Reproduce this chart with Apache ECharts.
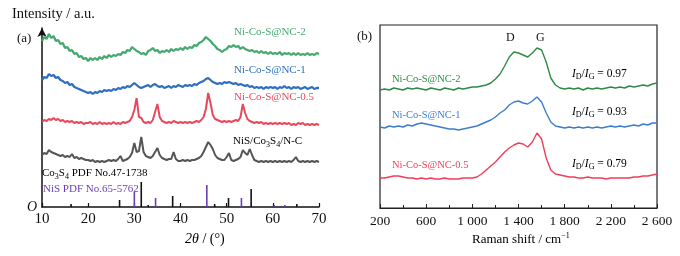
<!DOCTYPE html>
<html><head><meta charset="utf-8">
<script src="https://cdn.jsdelivr.net/npm/echarts@6/dist/echarts.min.js"></script>
<style>html,body{margin:0;padding:0;background:#fff}#c{width:680px;height:256px}</style>
</head><body><div id="c"></div>
<script>
// ---------- (a) XRD ----------
const xrdAngles = [
10,10.5,11,11.5,12,12.5,13,13.5,14,14.5,
15,15.5,16,16.5,17,17.5,18,18.5,19,19.5,
20,20.5,21,21.5,22,22.5,23,23.5,24,24.5,
25,25.5,26,26.5,27,27.5,28,28.5,29,29.5,
30,30.5,31,31.5,32,32.5,33,33.5,34,34.5,
35,35.5,36,36.5,37,37.5,38,38.5,39,39.5,
40,40.5,41,41.5,42,42.5,43,43.5,44,44.5,
45,45.5,46,46.5,47,47.5,48,48.5,49,49.5,
50,50.5,51,51.5,52,52.5,53,53.5,54,54.5,
55,55.5,56,56.5,57,57.5,58,58.5,59,59.5,
60,60.5,61,61.5,62,62.5,63,63.5,64,64.5,
65,65.5,66,66.5,67,67.5,68,68.5,69,69.5,
70];
const xrdNC2 = [
166,170,168,173,169,171,166,167,163,164,
159,160,156,157,153,154,150,151,148,149,
146,149,147,149,147,150,148,151,149,152,
150,152,151,153,152,155,154,157,156,160,
158,156,155,153,154,152,156,157,159,156,
157,154,156,155,157,155,158,156,158,157,
159,157,160,158,160,159,162,161,164,165,
167,170,168,166,163,161,158,157,155,157,
158,161,160,162,160,161,158,160,158,157,
156,157,155,156,154,156,154,155,153,155,
153,154,153,155,152,154,153,154,152,154,
152,154,152,153,152,154,152,153,152,154,
153];
const xrdNC1 = [
127,130,129,133,131,132,129,130,127,126,
124,125,122,123,120,119,118,117,116,115,
114,115,113,115,114,116,115,117,116,117,
116,118,117,119,118,120,119,121,120,122,
124,122,120,119,120,121,122,120,122,123,
121,120,121,119,120,121,119,121,120,122,
121,120,122,121,122,121,123,122,124,125,
126,128,129,127,125,124,123,124,123,125,
124,125,124,123,124,122,123,122,121,122,
120,121,119,120,119,120,118,120,119,120,
119,120,118,120,119,121,119,120,118,120,
119,120,118,119,120,118,119,120,118,119,
119];
const xrdNC05 = [
85,87,86,88,87,89,87,88,86,87,
85,86,85,86,84,85,84,85,83,84,
84,85,83,84,83,85,83,84,83,84,
83,85,83,84,83,85,84,85,86,90,
97,109,90,89,85,84,85,84,87,95,
103,90,86,85,84,85,84,86,85,84,
85,84,85,84,85,84,85,86,85,87,
90,98,114,104,92,88,87,86,85,86,
85,86,85,86,87,86,90,103,94,88,
86,85,84,85,84,85,83,84,83,84,
83,84,83,84,83,84,83,84,82,83,
82,84,83,84,82,83,82,83,82,83,
82];
const xrdNiSCo3S4 = [
52,54,53,57,55,54,53,52,51,52,
50,51,50,53,49,50,48,49,48,47,
47,46,47,45,46,45,46,45,46,47,
46,47,46,48,51,46,47,48,50,54,
64,55,56,70,55,51,50,49,51,55,
59,52,49,48,47,48,48,55,48,46,
46,47,46,47,46,47,47,48,49,51,
55,60,65,62,58,52,49,48,47,47,
50,54,47,46,47,48,50,57,54,52,
58,52,47,46,45,46,45,46,45,46,
45,46,45,46,45,46,45,46,45,47,
50,46,45,46,45,46,45,46,45,46,
45];
const co3s4PdfPos = [16.3, 26.8, 31.5, 33.0, 38.3, 47.4, 50.4, 55.3, 65.2];
const co3s4PdfInt = [3, 7, 25, 2, 11, 3, 9, 18, 3];
const nisPdfPos = [30.0, 34.6, 45.7, 53.2, 60.3, 62.6];
const nisPdfInt = [15, 9, 22, 9, 2, 2];
const xrdTicks = [10, 20, 30, 40, 50, 60, 70];

// ---------- (b) Raman ----------
const ramanShift = [
200,240,280,320,360,400,440,480,520,560,
600,640,680,720,760,800,840,880,920,960,
1000,1040,1080,1120,1160,1200,1240,1280,1320,1360,
1400,1440,1480,1520,1560,1600,1640,1680,1720,1760,
1800,1840,1880,1920,1960,2000,2040,2080,2120,2160,
2200,2240,2280,2320,2360,2400,2440,2480,2520,2560,
2600];
const ramanNC2 = [
118,119,118,120,119,118,120,119,120,119,
118,120,119,118,120,119,118,120,119,120,
121,121,122,123,125,129,134,142,151,156,
155,153,151,155,160,158,146,130,123,120,
119,120,119,120,118,120,119,120,119,120,
121,120,121,120,122,121,122,123,122,124,
125];
const ramanNC1 = [
81,80,82,81,82,81,83,82,84,85,
84,83,82,81,80,79,79,78,79,80,
81,82,84,86,88,91,95,98,103,106,
107,105,104,107,111,106,95,86,82,81,
80,81,80,81,80,81,80,81,80,81,
82,81,82,81,82,83,82,84,83,85,
85];
const ramanNC05 = [
30,30,31,32,32,31,30,30,29,30,
29,30,29,29,30,29,29,29,30,30,
30,31,34,38,42,46,51,56,60,63,
65,64,61,66,75,69,50,38,34,33,
32,31,31,30,30,31,30,30,30,29,
30,30,30,30,30,31,31,32,32,33,
34];
const ramanTicks = [200, 600, 1000, 1400, 1800, 2200, 2600];

const C = {
  g1:'#43a96e', b1:'#2d6ec0', r1:'#e8485c', k1:'#555555', p1:'#6a3fb5',
  g2:'#2f8a45', b2:'#3b7dd3', r2:'#ef3f58'
};
const SERIF = '"Liberation Serif","DejaVu Serif",serif';

function zip(xs, ys){ return xs.map((x,i)=>[x, ys[i]]); }
function fmtNum(v){ return v >= 1000 ? String(v).replace(/(\d)(\d{3})$/, '$1 $2') : String(v); }

const chart = echarts.init(document.getElementById('c'), null, {renderer:'canvas'});
const lineS = (xi, data, color, w) => ({
  type:'line', xAxisIndex:xi, yAxisIndex:xi, data, showSymbol:false, symbol:'none',
  lineStyle:{color, width:w}, animation:false, silent:true
});
const barS = (pos, inten, color) => ({
  type:'bar', xAxisIndex:0, yAxisIndex:0, data: zip(pos, inten), barWidth:1.6, barGap:'-100%',
  itemStyle:{color}, animation:false, silent:true
});

const subStyle = (color) => ({fontFamily:SERIF, fontSize:8, color, padding:[6,0,0,0]});
const baseStyle = (color, size) => ({fontFamily:SERIF, fontSize:size, color});

function ratioText(x, y, val, color){
  return {type:'text', left:x, top:y-7, style:{
    text:'{i|I}{s|D}{n|/}{i|I}{s|G}{n| = '+val+'}',
    rich:{ i:{fontFamily:SERIF, fontStyle:'italic', fontSize:11.5, color},
           s:subStyle(color), n:baseStyle(color,11.5) }
  }};
}
function plainText(x, y, txt, color, size, extra){
  return Object.assign({type:'text', left:x, top:y - size/2 - 1, style:Object.assign({text:txt, fill:color, font:size+'px '+SERIF}, extra||{})});
}

chart.setOption({
  backgroundColor:'#fff',
  animation:false,
  grid:[
    {left:42, top:28, width:277, height:179},
    {left:380, top:25, width:277, height:183, show:true, borderColor:'#222', borderWidth:1.2, backgroundColor:'transparent'}
  ],
  xAxis:[
    {gridIndex:0, type:'value', min:10, max:70, interval:10,
     axisLine:{lineStyle:{color:'#111', width:1.5}},
     axisTick:{inside:true, length:4, lineStyle:{color:'#111', width:1.2}},
     axisLabel:{fontFamily:SERIF, fontSize:15, color:'#111', margin:5,
       customValues: xrdTicks},
     splitLine:{show:false}},
    {gridIndex:1, type:'value', min:200, max:2600, interval:400,
     axisLine:{lineStyle:{color:'#222', width:1.2}},
     axisTick:{inside:true, length:4, lineStyle:{color:'#222'}},
     minorTick:{show:true, splitNumber:2, length:3, lineStyle:{color:'#222'}},
     axisLabel:{fontFamily:SERIF, fontSize:13.5, color:'#111', margin:6, formatter:fmtNum},
     splitLine:{show:false}, minorSplitLine:{show:false}}
  ],
  yAxis:[
    {gridIndex:0, type:'value', min:0, max:179,
     axisLine:{show:true, symbol:['none','arrow'], symbolSize:[7,9], symbolOffset:[0,0], lineStyle:{color:'#111', width:1.5}},
     axisTick:{show:false}, axisLabel:{show:false}, splitLine:{show:false}},
    {gridIndex:1, type:'value', min:0, max:183,
     axisLine:{show:false}, axisTick:{show:false}, axisLabel:{show:false}, splitLine:{show:false}}
  ],
  series:[
    lineS(0, zip(xrdAngles, xrdNC2), C.g1, 2.3),
    lineS(0, zip(xrdAngles, xrdNC1), C.b1, 2.3),
    lineS(0, zip(xrdAngles, xrdNC05), C.r1, 2.0),
    lineS(0, zip(xrdAngles, xrdNiSCo3S4), C.k1, 2.0),
    barS(co3s4PdfPos, co3s4PdfInt, '#111'),
    barS(nisPdfPos, nisPdfInt, C.p1),
    lineS(1, zip(ramanShift, ramanNC2), C.g2, 1.4),
    lineS(1, zip(ramanShift, ramanNC1), C.b2, 1.4),
    lineS(1, zip(ramanShift, ramanNC05), C.r2, 1.4)
  ],
  graphic:[
    plainText(12, 15, 'Intensity / a.u.', '#111', 14.5),
    plainText(17, 40, '(a)', '#111', 13),
    plainText(27, 208, 'O', '#111', 14, {font:'italic 14px '+SERIF}),
    plainText(234, 33, 'Ni-Co-S@NC-2', C.g1, 11),
    plainText(234, 71, 'Ni-Co-S@NC-1', C.b1, 11),
    plainText(234, 98, 'Ni-Co-S@NC-0.5', C.r1, 11),
    {type:'text', left:233, top:136, style:{
      text:'{n|NiS/Co}{s|3}{n|S}{s|4}{n|/N-C}',
      rich:{n:baseStyle('#444',11), s:subStyle('#444')}}},
    {type:'text', left:42, top:168, style:{
      text:'{n|Co}{s|3}{n|S}{s|4}{n| PDF No.47-1738}',
      rich:{n:baseStyle('#111',11), s:subStyle('#111')}}},
    plainText(43, 190, 'NiS PDF No.65-5762', C.p1, 11),
    {type:'text', left:185, top:232, style:{
      text:'{i|2θ}{n| / (°)}',
      rich:{i:{fontFamily:SERIF, fontStyle:'italic', fontSize:14, color:'#111'}, n:baseStyle('#111',14)}}},
    plainText(357, 38, '(b)', '#111', 13),
    plainText(506, 39, 'D', '#111', 12),
    plainText(536, 39, 'G', '#111', 12),
    plainText(392, 80, 'Ni-Co-S@NC-2', C.g2, 10.5),
    plainText(392, 116, 'Ni-Co-S@NC-1', C.b2, 10.5),
    plainText(392, 166, 'Ni-Co-S@NC-0.5', C.r2, 10.5),
    ratioText(572, 75, '0.97', C.g2),
    ratioText(572, 113, '0.93', C.b2),
    ratioText(572, 165, '0.79', C.r2),
    {type:'text', left:472, top:232, style:{
      text:'{n|Raman shift / cm}{p|−1}',
      rich:{n:baseStyle('#111',13), p:{fontFamily:SERIF, fontSize:8, color:'#111', padding:[0,0,7,0]}}}}
  ]
});
</script>
</body></html>
